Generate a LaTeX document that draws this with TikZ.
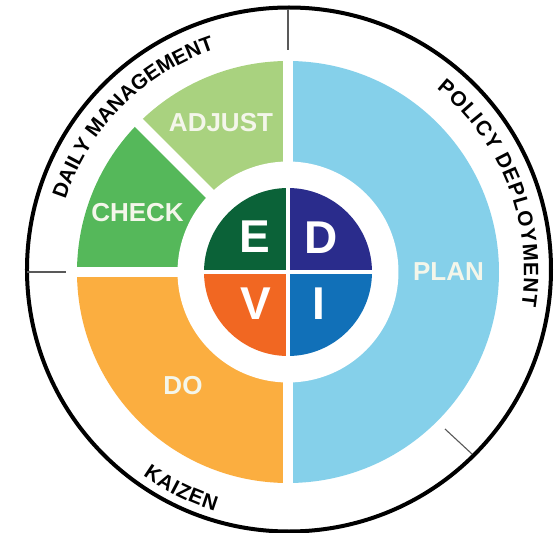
\documentclass[tikz,border=0pt]{standalone}
\usepackage{fontspec}
\setmainfont{Liberation Sans}
\usetikzlibrary{decorations.text}
\definecolor{planC}{HTML}{85D0EA}
\definecolor{adjustC}{HTML}{A9D27F}
\definecolor{checkC}{HTML}{55B85A}
\definecolor{doC}{HTML}{FBAE40}
\definecolor{eC}{HTML}{0B6238}
\definecolor{dC}{HTML}{2A2C8C}
\definecolor{vC}{HTML}{F16722}
\definecolor{iC}{HTML}{1170B8}
\definecolor{labelC}{HTML}{F4F6EA}
\newcommand{\arcfont}{\fontsize{20.8}{22}\selectfont\bfseries}
\tikzset{
  bigsector/.style={fill=#1,draw=none},
  gapline/.style={draw=white,line width=#1},
  ringlabel/.style={text=labelC,font=\fontsize{26}{26}\selectfont\bfseries,inner sep=0pt},
  corelabel/.style={text=white,font=\fontsize{46}{46}\selectfont\bfseries,inner sep=0pt},
  ticklink/.style={draw=black!65,line width=1.1pt},
  arctext/.style={decorate,decoration={text along path,text={|\arcfont|#1},text align={fit to path}}}
}
\begin{document}
\begin{tikzpicture}[x=1pt,y=1pt]
\useasboundingbox (-288,-261) rectangle (272,272);
\fill[white] (-288,-261) rectangle (272,272);
% outer ring
\draw[black,line width=4pt] (1,2.5) circle[radius=262];
% big ring sectors
\fill[bigsector=planC] (0,0) -- (90:211) arc[start angle=90,end angle=-90,radius=211] -- cycle;
\fill[bigsector=adjustC] (0,0) -- (90:211) arc[start angle=90,end angle=135,radius=211] -- cycle;
\fill[bigsector=checkC] (0,0) -- (135:211) arc[start angle=135,end angle=180,radius=211] -- cycle;
\fill[bigsector=doC] (0,0) -- (180:211) arc[start angle=180,end angle=270,radius=211] -- cycle;
% white gaps
\draw[gapline=10pt] (0,-215) -- (0,215);
\draw[gapline=10pt] (-215,0) -- (0,0);
\draw[gapline=11pt] (135:215) -- (0,0);
\fill[white] (0,0) circle[radius=110.5];
% core quadrants
\fill[bigsector=dC] (0,0) -- (90:84) arc[start angle=90,end angle=0,radius=84] -- cycle;
\fill[bigsector=eC] (0,0) -- (90:84) arc[start angle=90,end angle=180,radius=84] -- cycle;
\fill[bigsector=vC] (0,0) -- (180:84) arc[start angle=180,end angle=270,radius=84] -- cycle;
\fill[bigsector=iC] (0,0) -- (270:84) arc[start angle=270,end angle=360,radius=84] -- cycle;
\draw[gapline=4pt] (0,-86) -- (0,86);
\draw[gapline=4pt] (-86,0) -- (86,0);
% tick marks
\coordinate (topA) at (0,263);
\coordinate (topB) at (0,222);
\coordinate (leftA) at (-261,0);
\coordinate (leftB) at (-222,0);
\coordinate (brA) at (184,-182);
\coordinate (brB) at (157,-157);
\draw[ticklink] (topA) -- (topB);
\draw[ticklink] (leftA) -- (leftB);
\draw[ticklink] (brA) -- (brB);
% ring labels
\node[ringlabel] (plan) at (160.5,0.5) {PLAN};
\node[ringlabel] (adjust) at (-67,149) {ADJUST};
\node[ringlabel] (check) at (-150.5,59) {CHECK};
\node[ringlabel] (do) at (-105,-114) {DO};
% core labels
\node[corelabel] (e) at (-33.5,35) {E};
\node[corelabel] (d) at (33,34.5) {D};
\node[corelabel] (v) at (-32,-32) {V};
\node[corelabel] (i) at (31,-32) {I};
% curved texts
\path[arctext={DAILY MANAGEMENT}] (162:234) arc[start angle=162,end angle=108.5,radius=234];
\path[arctext={POLICY DEPLOYMENT}] (51:236) arc[start angle=51,end angle=-8.4,radius=236];
\path[arctext={KAIZEN}] (234.5:250) arc[start angle=234.5,end angle=253,radius=250];
\end{tikzpicture}
\end{document}
